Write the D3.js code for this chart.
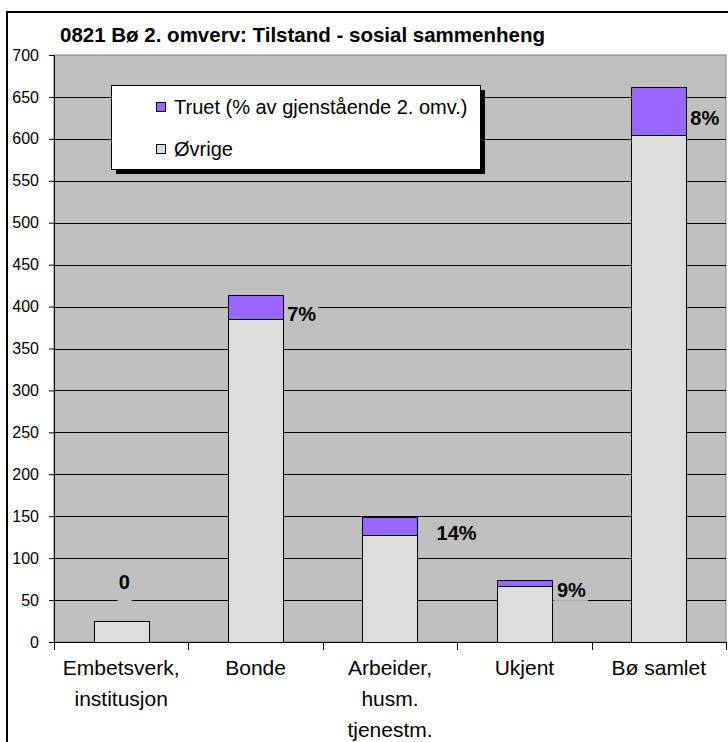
<!DOCTYPE html>
<html>
<head>
<meta charset="utf-8">
<script src="https://cdn.jsdelivr.net/npm/d3@7"></script>
<style>
  body { margin: 0; background: #fff; }
  svg { display: block; font-family: Arial, "Liberation Sans", sans-serif; }
</style>
</head>
<body>
<div id="chart"></div>
<script>
// data
const categories = [["Embetsverk,", "institusjon"], ["Bonde"], ["Arbeider,", "husm.", "tjenestm."], ["Ukjent"], ["Bø samlet"]];
const ovrige = [25, 385, 128, 67, 605];
const truet = [0, 29, 21, 7, 57];
const pctLabels = ["0", "7%", "14%", "9%", "8%"];
const yTicks = d3.range(0, 701, 50);
const title = "0821 Bø 2. omverv: Tilstand - sosial sammenheng";
const legendLabels = ["Truet (% av gjenstående 2. omv.)", "Øvrige"];

const width = 728, height = 742;
const plot = { left: 54, right: 726, top: 55, bottom: 642 };
const colTruet = "#9966ff", colOvrige = "#dddddd", plotBg = "#c0c0c0";

const svg = d3.select("#chart").append("svg")
  .attr("width", width).attr("height", height);

// chart frame
svg.append("rect")
  .attr("x", 7).attr("y", 12).attr("width", 740).attr("height", 760)
  .attr("fill", "#fff").attr("stroke", "#000").attr("stroke-width", 2);

svg.append("text")
  .attr("x", 60).attr("y", 42)
  .attr("font-size", 20.5).attr("font-weight", "bold")
  .text(title);

const keys = categories.map((c, i) => i);
const x = d3.scaleBand()
  .domain(keys)
  .range([plot.left, plot.right])
  .paddingInner(0.59).paddingOuter(0.295);

const y = d3.scaleLinear().domain([0, 700]).range([plot.bottom, plot.top]);

// plot area
svg.append("rect")
  .attr("x", plot.left).attr("y", plot.top)
  .attr("width", plot.right - plot.left).attr("height", plot.bottom - plot.top)
  .attr("fill", plotBg).attr("stroke", "#808080");

// gridlines
svg.append("g").selectAll("line")
  .data(yTicks.filter(v => v > 0 && v < 700))
  .join("line")
  .attr("x1", plot.left).attr("x2", plot.right)
  .attr("y1", d => Math.round(y(d)) + 0.5).attr("y2", d => Math.round(y(d)) + 0.5)
  .attr("stroke", "#000");

// y axis
const yAxis = svg.append("g")
  .attr("transform", `translate(${plot.left},0)`)
  .call(d3.axisLeft(y).tickValues(yTicks).tickSize(5).tickSizeOuter(0).tickPadding(10));
yAxis.selectAll("text").attr("font-size", 16).attr("font-family", "Arial, 'Liberation Sans', sans-serif").attr("fill", "#000");
yAxis.selectAll("line, path").attr("stroke", "#000");

// x axis
const step = x.step();
svg.append("line")
  .attr("x1", plot.left).attr("x2", plot.right)
  .attr("y1", plot.bottom + 0.5).attr("y2", plot.bottom + 0.5)
  .attr("stroke", "#000");
svg.append("g").selectAll("line")
  .data(d3.range(categories.length + 1))
  .join("line")
  .attr("x1", i => Math.round(plot.left + i * step) + 0.5)
  .attr("x2", i => Math.round(plot.left + i * step) + 0.5)
  .attr("y1", plot.bottom).attr("y2", plot.bottom + 8)
  .attr("stroke", "#000");

svg.append("g").selectAll("text")
  .data(keys)
  .join("text")
  .attr("x", i => x(i) + x.bandwidth() / 2)
  .attr("y", plot.bottom + 33)
  .attr("text-anchor", "middle")
  .attr("font-size", 21)
  .each(function (i) {
    d3.select(this).selectAll("tspan")
      .data(categories[i])
      .join("tspan")
      .attr("x", x(i) + x.bandwidth() / 2)
      .attr("dy", (d, k) => k === 0 ? 0 : 31)
      .text(d => d);
  });

// stacked bars
const rows = keys.map(i => ({ i, ovrige: ovrige[i], truet: truet[i] }));
const stacked = d3.stack().keys(["ovrige", "truet"])(rows);
const colors = { ovrige: colOvrige, truet: colTruet };

svg.append("g").selectAll("g")
  .data(stacked)
  .join("g")
  .attr("fill", d => colors[d.key])
  .selectAll("rect")
  .data(d => d.filter(s => s[1] > s[0]))
  .join("rect")
  .attr("x", d => Math.round(x(d.data.i)) + 0.5)
  .attr("y", d => Math.round(y(d[1])) + 0.5)
  .attr("width", Math.round(x.bandwidth()))
  .attr("height", d => Math.round(y(d[0])) - Math.round(y(d[1])))
  .attr("stroke", "#000");

// data labels
const labelDx = [0, 4, 19, 5, 4];
const labelG = svg.append("g");
keys.forEach(i => {
  const total = ovrige[i] + truet[i];
  let lx, ly, anchor, extra = 0, padL = 3;
  if (truet[i] === 0) {
    lx = x(i) + x.bandwidth() / 2 + 3;
    ly = y(total) - 32;
    anchor = "middle";
    extra = 10;
    padL = 1;
  } else {
    lx = x(i) + x.bandwidth() + labelDx[i];
    ly = y(ovrige[i] + truet[i] / 2) + 14;
    anchor = "start";
  }
  const t = labelG.append("text")
    .attr("x", lx).attr("y", ly)
    .attr("text-anchor", anchor)
    .attr("font-size", 20).attr("font-weight", "bold")
    .text(pctLabels[i]);
  const bb = t.node().getBBox();
  labelG.insert("rect", "text")
    .attr("x", bb.x - padL).attr("y", bb.y)
    .attr("width", bb.width + padL + 2).attr("height", bb.height + extra)
    .attr("fill", plotBg);
});

// legend
const legendW = 369, legendH = 84;
const lg = svg.append("g").attr("transform", "translate(111,85)");
lg.append("rect").attr("x", 5).attr("y", 5).attr("width", legendW).attr("height", legendH).attr("fill", "#000");
lg.append("rect").attr("x", 0.5).attr("y", 0.5).attr("width", legendW).attr("height", legendH)
  .attr("fill", "#fff").attr("stroke", "#000");
const legendColors = [colTruet, colOvrige];
legendLabels.forEach((lab, k) => {
  const cy = 22 + k * 42;
  lg.append("rect").attr("x", 45.5).attr("y", cy - 4.5).attr("width", 9).attr("height", 9)
    .attr("fill", legendColors[k]).attr("stroke", "#000");
  lg.append("text").attr("x", 63).attr("y", cy + 7)
    .attr("font-size", 20).text(lab);
});
</script>
</body>
</html>
